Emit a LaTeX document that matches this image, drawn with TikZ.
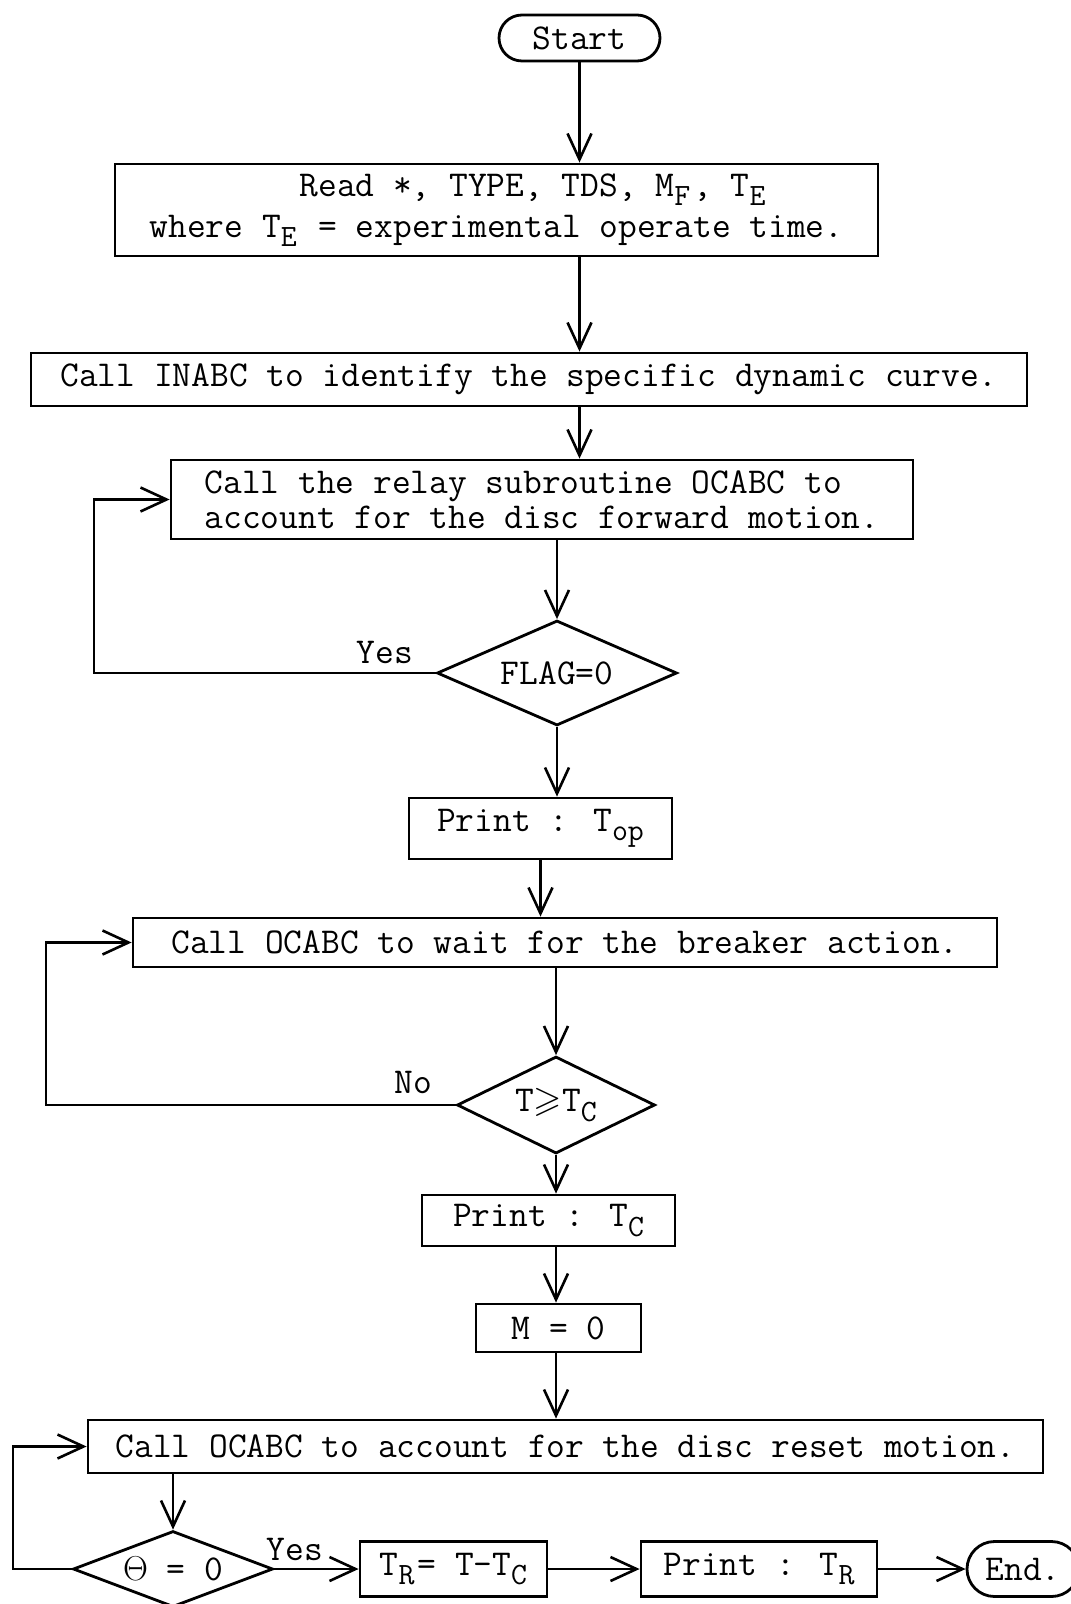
\documentclass[tikz,border=0pt]{standalone}
\usepackage{fontspec}
\usepackage{amssymb}
\usetikzlibrary{arrows.meta,shapes.geometric,shapes.misc}
% lowered subscript in the typewriter face, with a little room after it
\newcommand\lowsub[1]{\raisebox{-4.8pt}{\fontsize{15.5}{15.5}\selectfont #1}\hspace{1.5pt}}
\begin{document}
\begin{tikzpicture}[x=0.5pt,y=-0.5pt,
  every node/.style={font=\ttfamily\fontsize{18.2}{19.5}\selectfont},
  stepbox/.style={draw,line width=1.4pt,rectangle,inner sep=0pt},
  term/.style={draw,line width=1.4pt,rounded rectangle,inner sep=0pt},
  test/.style={draw,line width=1.4pt,diamond,inner sep=0pt},
  flow/.style={line width=1.3pt,-{Straight Barb[length=13pt,width=12pt,line width=1.3pt]}}
]
\useasboundingbox (0,0) rectangle (1070,1604);

% main column
\node[term,minimum width=80.5pt,minimum height=23pt] (start) at (579.5,38) {Start};
\node[stepbox,minimum width=381.5pt,minimum height=46pt,align=left,
  font=\ttfamily\fontsize{18.2}{20.5}\selectfont] (read) at (496.5,210)
  {\phantom{12345678}Read *, TYPE, TDS, M\lowsub{F}, T\lowsub{E}\\where T\lowsub{E} = experimental operate time.};
\node[stepbox,minimum width=498pt,minimum height=26.5pt] (inabc) at (529,379.5)
  {Call INABC to identify the specific dynamic curve.};
\node[stepbox,minimum width=371pt,minimum height=39.5pt,align=left,
  font=\ttfamily\fontsize{18.2}{17.5}\selectfont] (relay) at (542,499.5)
  {Call the relay subroutine OCABC to\\account for the disc forward motion.};
\node[test,aspect=2.29,minimum width=120pt,minimum height=52.5pt] (flag) at (557,673) {FLAG=0};
\node (yes1) at (385,652) {Yes};
\node[stepbox,minimum width=131.5pt,minimum height=30.5pt] (ptop) at (540.5,828.5) {Print : T\lowsub{op}};
\node[stepbox,minimum width=432pt,minimum height=24.5pt] (brk) at (565,942.5)
  {Call OCABC to wait for the breaker action.};
\node[test,aspect=2.04,minimum width=99pt,minimum height=48.5pt] (tge) at (556,1105) {T$\geqslant$T\lowsub{C}};
\node (no) at (413,1082) {No};
\node[stepbox,minimum width=126.5pt,minimum height=25.5pt] (ptc) at (548.5,1220.5) {Print : T\lowsub{C}};
\node[stepbox,minimum width=82.5pt,minimum height=24pt] (mzero) at (558.5,1328) {M = 0};
\node[stepbox,minimum width=477.5pt,minimum height=26.5pt] (reset) at (565.5,1446.5)
  {Call OCABC to account for the disc reset motion.};

% bottom row
\node[test,aspect=2.63,minimum width=100pt,minimum height=38pt] (theta) at (173,1569) {$\Theta$ = 0};
\node (yes2) at (295,1549) {Yes};
\node[stepbox,minimum width=93.5pt,minimum height=27.5pt] (tr) at (453.5,1569) {T\lowsub{R}= T-T\lowsub{C}};
\node[stepbox,minimum width=118pt,minimum height=27.5pt] (ptr) at (759,1569) {Print : T\lowsub{R}};
\node[term,minimum width=56pt,minimum height=27.5pt] (end) at (1023,1569) {End.};

% straight flow
\draw[flow] (start.south) -- (read.north -| start.south);
\draw[flow] (read.south -| start.south) -- (inabc.north -| start.south);
\draw[flow] (inabc.south -| start.south) -- (relay.north -| start.south);
\draw[flow] (relay.south -| flag.north) -- (flag.north);
\draw[flow] (flag.south) -- (ptop.north -| flag.south);
\draw[flow] (ptop.south) -- (brk.north -| ptop.south);
\draw[flow] (brk.south -| tge.north) -- (tge.north);
\draw[flow] (tge.south) -- (ptc.north -| tge.south);
\draw[flow] (ptc.south -| tge.south) -- (mzero.north -| tge.south);
\draw[flow] (mzero.south -| tge.south) -- (reset.north -| tge.south);
\draw[flow] (reset.south -| theta.north) -- (theta.north);
\draw[flow] (theta.east) -- (tr.west);
\draw[flow] (tr.east) -- (ptr.west);
\draw[flow] (ptr.east) -- (end.west);

% loops back
\coordinate (loopA) at (94,673);
\coordinate (loopB) at (46,1105);
\coordinate (loopC) at (13,1569);
\draw[flow] (flag.west) -- (loopA) |- (relay.west);
\draw[flow] (tge.west) -- (loopB) |- (brk.west);
\draw[flow] (theta.west) -- (loopC) |- (reset.west);
\end{tikzpicture}
\end{document}
